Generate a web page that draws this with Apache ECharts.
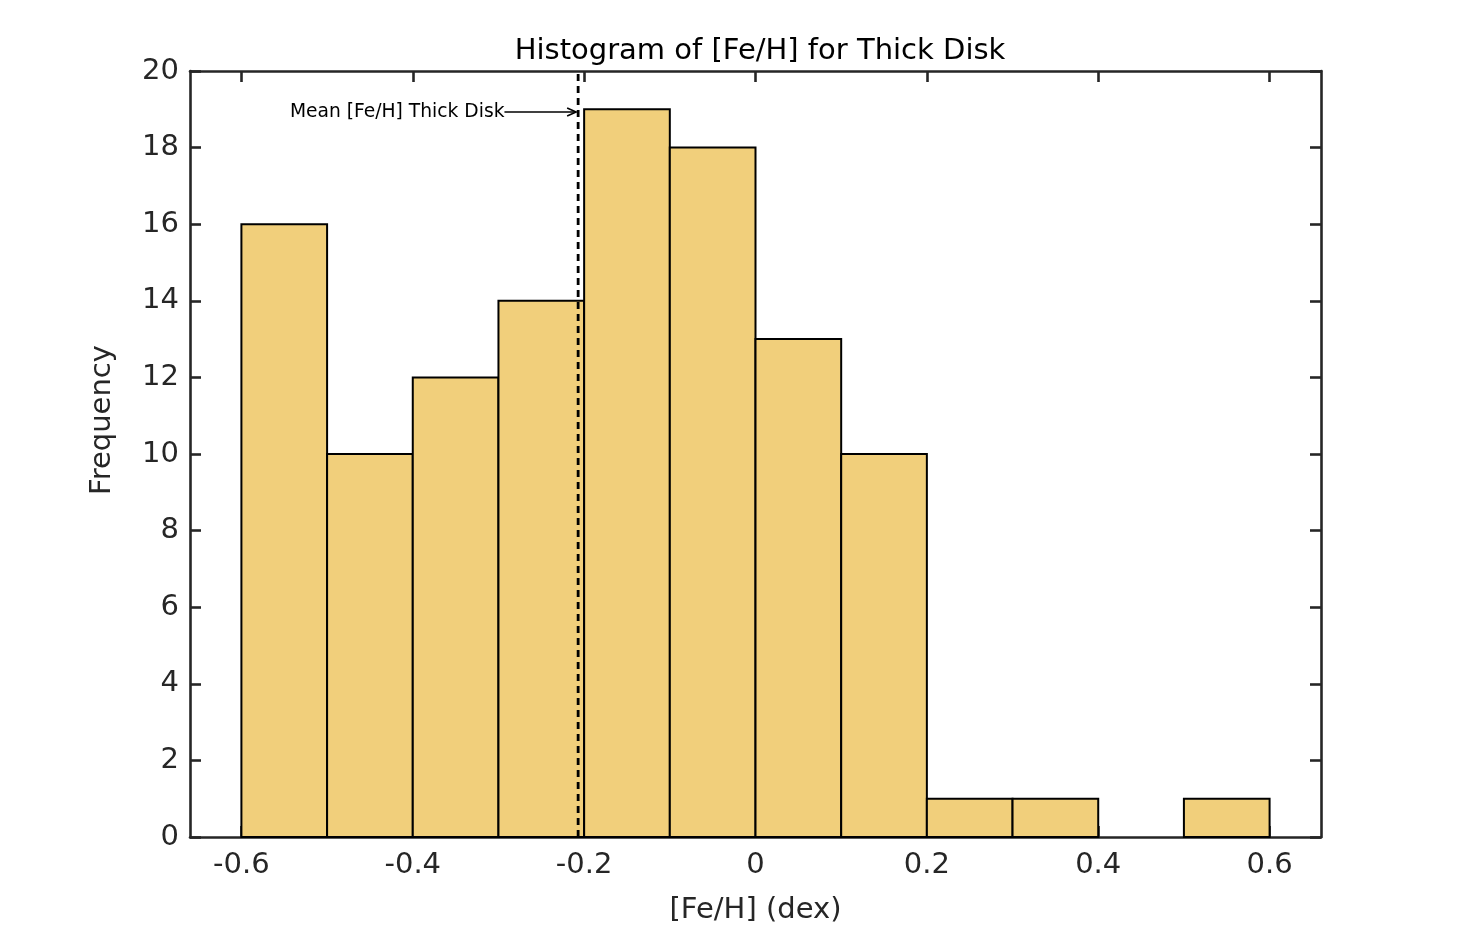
<!DOCTYPE html>
<html><head><meta charset="utf-8">
<script src="https://cdn.jsdelivr.net/npm/echarts@6/dist/echarts.min.js"></script>
<style>html,body{margin:0;padding:0;background:#fff}#c{width:1461px;height:943px}</style>
</head><body><div id="c"></div>
<script>
const binStarts = [-0.6, -0.5, -0.4, -0.3, -0.2, -0.1, 0.0, 0.1, 0.2, 0.3, 0.4, 0.5];
const binWidth = 0.1;
const counts = [16, 10, 12, 14, 19, 18, 13, 10, 1, 1, 0, 1];
const xTicks = [-0.6, -0.4, -0.2, 0, 0.2, 0.4, 0.6];
const meanFeH = -0.207;
const annotationText = 'Mean [Fe/H] Thick Disk';
const annotationStartX = -0.293;
const annotationY = 18.93;
const titleText = 'Histogram of [Fe/H] for Thick Disk';
const xName = '[Fe/H] (dex)';
const yName = 'Frequency';

const FONT = 'DejaVu Sans';
const AX = '#262626';
const barData = binStarts.map((s, i) => [s, s + binWidth, counts[i]]).filter(d => d[2] > 0);

const chart = echarts.init(document.getElementById('c'), null, {renderer: 'canvas'});
const fmt = v => { const r = Math.round(v * 10) / 10; return r === 0 ? '0' : r.toFixed(1); };
const baseX = {
  type: 'value', min: -0.66, max: 0.66,
  splitLine: {show: false},
  axisLine: {show: true, onZero: false, lineStyle: {color: AX, width: 2.6}},
  axisTick: {show: true, inside: true, length: 11, customValues: xTicks, lineStyle: {color: AX, width: 2.6}}
};
const baseY = {
  type: 'value', min: 0, max: 20, interval: 2,
  splitLine: {show: false},
  axisLine: {show: true, onZero: false, lineStyle: {color: AX, width: 2.6}},
  axisTick: {show: true, inside: true, length: 11, lineStyle: {color: AX, width: 2.6}}
};
chart.setOption({
  animation: false,
  backgroundColor: '#fff',
  title: {text: titleText, left: 755, top: 32, textAlign: 'center',
    textStyle: {fontFamily: FONT, fontSize: 29, fontWeight: 'normal', color: '#000'}},
  grid: {left: 190, right: 140, top: 71, bottom: 106, containLabel: false},
  xAxis: [
    Object.assign({}, baseX, {position: 'bottom',
      name: xName, nameLocation: 'middle', nameGap: 59,
      nameTextStyle: {fontFamily: FONT, fontSize: 29, color: AX},
      axisLabel: {show: true, customValues: xTicks, formatter: fmt, margin: 14,
        fontFamily: FONT, fontSize: 29, color: AX}}),
    Object.assign({}, baseX, {position: 'top', axisLabel: {show: false}})
  ],
  yAxis: [
    Object.assign({}, baseY, {position: 'left',
      name: yName, nameLocation: 'middle', nameGap: 73,
      nameTextStyle: {fontFamily: FONT, fontSize: 29, color: AX, padding: [0, 0, 0, 68]},
      axisLabel: {show: true, margin: 11, fontFamily: FONT, fontSize: 29, color: AX}}),
    Object.assign({}, baseY, {position: 'right', axisLabel: {show: false}})
  ],
  series: [
    {
      type: 'custom', xAxisIndex: 0, yAxisIndex: 0,
      data: barData,
      encode: {x: [0, 1], y: 2},
      renderItem: function (params, api) {
        const p0 = api.coord([api.value(0), api.value(2)]);
        const p1 = api.coord([api.value(1), 0]);
        return {type: 'rect',
          shape: {x: p0[0], y: p0[1], width: p1[0] - p0[0], height: p1[1] - p0[1]},
          style: {fill: '#F1CF7B', stroke: '#000', lineWidth: 2}};
      },
      z: 2
    },
    {
      type: 'custom', xAxisIndex: 0, yAxisIndex: 0,
      data: [[meanFeH, 0, 20]],
      renderItem: function (params, api) {
        const a = api.coord([api.value(0), api.value(1)]);
        const b = api.coord([api.value(0), api.value(2)]);
        return {type: 'line', shape: {x1: a[0], y1: a[1], x2: b[0], y2: b[1]},
          style: {stroke: '#000', lineWidth: 2.8, lineDash: [7, 5]}};
      },
      z: 3
    },
    {
      type: 'custom', xAxisIndex: 0, yAxisIndex: 0,
      data: [[annotationStartX, meanFeH, annotationY]],
      renderItem: function (params, api) {
        const s = api.coord([api.value(0), api.value(2)]);
        const e = api.coord([api.value(1), api.value(2)]);
        const ex = e[0] - 2;
        return {type: 'group', children: [
          {type: 'line', shape: {x1: s[0], y1: s[1], x2: ex, y2: s[1]},
            style: {stroke: '#000', lineWidth: 1.6}},
          {type: 'polyline', shape: {points: [[ex - 9, s[1] - 4], [ex, s[1]], [ex - 9, s[1] + 4]]},
            style: {stroke: '#000', lineWidth: 1.6, fill: null}},
          {type: 'text', x: s[0], y: s[1],
            style: {text: annotationText, align: 'right', verticalAlign: 'middle',
              fontFamily: FONT, fontSize: 18.7, fill: '#000'}}
        ]};
      },
      z: 4
    }
  ]
});
</script></body></html>
